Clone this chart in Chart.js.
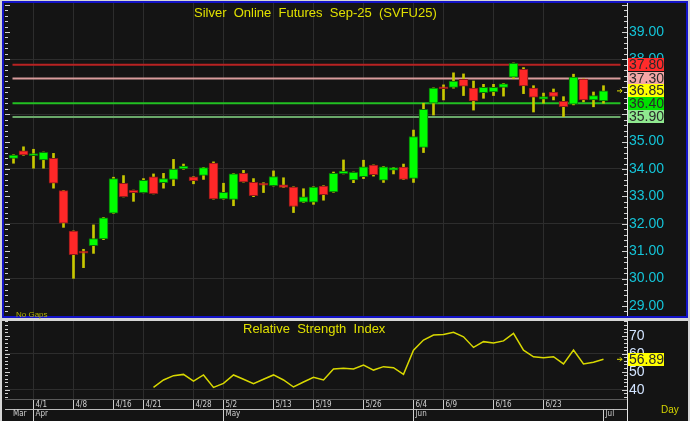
<!DOCTYPE html>
<html>
<head>
<meta charset="utf-8">
<script src="https://cdn.jsdelivr.net/npm/chart.js@4/dist/chart.umd.min.js"></script>
<style>
  html, body { margin: 0; padding: 0; }
  body {
    width: 690px; height: 421px; position: relative; overflow: hidden;
    background: #d6d6d6; font-family: Arial, "Liberation Sans", sans-serif;
  }
  #main {
    position: absolute; left: 2px; top: 1px; width: 682px; height: 313px;
    border: 2px solid #1414c8; background: #141414;
  }
  #rsi { position: absolute; left: 2px; top: 321px; width: 686px; height: 100px; background: #141414; }
  canvas { position: absolute; }
  .txt { position: absolute; white-space: pre; line-height: 1.15; }
</style>
</head>
<body>
<div id="main">
  <canvas id="priceChart" width="681" height="313" style="left:1px;top:0"></canvas>
  <div class="txt" style="left:190px;top:3px;font-size:13px;color:#e0e000">Silver  Online  Futures  Sep-25  (SVFU25)</div>
  <div class="txt" style="left:12px;top:307px;font-size:8px;color:#b4b400">No Gaps</div>
</div>
<div id="rsi">
  <canvas id="rsiChart" width="681" height="100" style="left:3px;top:0"></canvas>
  <div class="txt" style="left:241px;top:1px;font-size:13px;color:#e0e000">Relative  Strength  Index</div>
  <div class="txt" style="left:659px;top:83px;font-size:10px;color:#d4d400">Day</div>
</div>

<script>
// daily OHLC, 3/28 .. 7/1
const opens  = [34.39, 34.66, 34.49, 34.33, 34.39, 33.21, 31.73, 31.00, 31.20, 31.45,
                32.39, 33.48, 33.22, 33.14, 33.71, 33.50, 33.62, 34.00, 33.71, 33.77,
                34.22, 32.91, 32.89, 33.84, 33.51, 33.49, 33.39, 33.42, 33.34, 32.79,
                32.79, 33.38, 33.16, 33.83, 33.60, 33.72, 34.14, 33.59, 33.96, 34.07,
                33.66, 34.79, 36.40, 37.00, 36.98, 37.27, 36.95, 36.79, 36.81, 36.98,
                37.35, 37.64, 36.95, 36.55, 36.81, 36.47, 36.37, 37.28, 36.52, 36.48];
const highs  = [34.52, 34.81, 34.72, 34.62, 34.57, 33.22, 31.74, 31.07, 31.96, 32.23,
                33.70, 33.76, 33.23, 33.65, 33.82, 33.84, 34.35, 34.18, 33.72, 34.06,
                34.26, 33.48, 33.83, 33.95, 33.65, 33.50, 33.93, 33.68, 33.35, 33.28,
                33.35, 33.39, 33.89, 34.33, 33.89, 34.32, 34.15, 34.09, 34.06, 34.18,
                35.42, 36.40, 36.96, 37.07, 37.51, 37.47, 37.21, 37.09, 37.09, 37.12,
                37.87, 37.70, 37.04, 36.77, 36.92, 36.64, 37.46, 37.29, 36.81, 37.04];
const lows   = [34.21, 34.50, 34.03, 34.03, 33.30, 31.87, 30.01, 30.40, 30.92, 31.42,
                32.38, 32.98, 32.82, 33.13, 33.09, 33.30, 33.39, 33.99, 33.46, 33.62,
                32.90, 32.90, 32.66, 33.52, 32.99, 33.14, 33.38, 33.32, 32.41, 32.78,
                32.71, 32.86, 33.15, 33.82, 33.50, 33.65, 33.74, 33.51, 33.82, 33.61,
                33.51, 34.60, 35.97, 36.52, 36.95, 36.68, 36.15, 36.58, 36.68, 36.66,
                37.30, 36.75, 36.08, 36.40, 36.52, 35.91, 36.34, 36.45, 36.27, 36.40];
const closes = [34.51, 34.51, 34.56, 34.61, 33.48, 32.02, 30.87, 30.93, 31.46, 32.22,
                33.65, 32.99, 33.14, 33.59, 33.10, 33.65, 34.00, 34.11, 33.57, 34.05,
                32.91, 33.15, 33.82, 33.53, 33.03, 33.41, 33.72, 33.33, 32.63, 32.98,
                33.34, 33.06, 33.84, 33.92, 33.88, 34.08, 33.79, 34.08, 34.05, 33.62,
                35.18, 36.18, 36.95, 36.93, 37.21, 37.02, 36.48, 36.98, 36.98, 37.11,
                37.86, 37.03, 36.62, 36.64, 36.65, 36.27, 37.35, 36.52, 36.68, 36.85];

// RSI starts at bar 14
const rsiStart = 14;
const rsiValues = [41.3, 45.4, 47.8, 48.5, 44.8, 48.2, 41.3, 43.5, 48.2, 45.8,
                   43.3, 45.8, 48.2, 45.4, 41.5, 44.3, 46.9, 45.4, 51.5, 51.9,
                   51.5, 53.7, 50.9, 52.8, 52.2, 48.5, 62.0, 67.6, 70.4, 70.7,
                   71.9, 69.4, 63.5, 66.7, 65.9, 67.1, 71.3, 62.0, 58.3, 57.8,
                   58.3, 54.3, 62.0, 54.3, 55.2, 56.89];

const dateIdx    = [2, 6, 10, 13, 18, 21, 26, 30, 35, 40, 43, 48, 53];
const dateLabels = ['4/1', '4/8', '4/16', '4/21', '4/28', '5/2', '5/13', '5/19', '5/26', '6/4', '6/9', '6/16', '6/23'];
const monthIdx    = [-0.25, 2, 21, 40, 59];
const monthLabels = ['Mar', 'Apr', 'May', 'Jun', 'Jul'];

const priceTicks = [29, 30, 31, 32, 33, 34, 35, 36, 37, 38, 39];
const rsiTicks   = [40, 50, 60, 70];

const levelValues    = [37.80, 37.30, 36.85, 36.40, 35.90];
const levelTagColors = ['#ff2b2b', '#f4a6a6', '#ffff00', '#00e000', '#8fe88f'];
const levelLineColors = ['#b82222', '#d89c9c', null, '#22c022', '#6aa86a'];
const lastPrice = 36.85;
const lastRsi = 56.89;

const xMin = -0.85, xMax = 61.35;
const gridColor = '#2d2d2d';
const narrow = '"Liberation Sans Narrow", "DejaVu Sans Condensed", Arial, sans-serif';

Chart.defaults.font.family = 'Arial, "Liberation Sans", sans-serif';

function edgeTicks(chart, step, major) {
  const { ctx, chartArea: a, scales: { y } } = chart;
  ctx.save();
  ctx.strokeStyle = '#d0d0d0';
  ctx.lineWidth = 1;
  ctx.beginPath();
  for (let k = Math.ceil(y.min / step); k * step <= y.max; k++) {
    const v = k * step;
    const py = Math.round(y.getPixelForValue(v)) + 0.5;
    const len = Math.abs(v / major - Math.round(v / major)) < 1e-6 ? 5 : 3;
    ctx.moveTo(a.left, py); ctx.lineTo(a.left + len, py);
    ctx.moveTo(a.right, py); ctx.lineTo(a.right - len, py);
  }
  ctx.stroke();
  ctx.restore();
}

function tag(chart, value, text, bg) {
  const { ctx, chartArea: a, scales: { y } } = chart;
  const py = y.getPixelForValue(value);
  ctx.save();
  ctx.fillStyle = bg;
  ctx.fillRect(a.right + 1, Math.round(py - 6.5), 36, 13);
  ctx.fillStyle = '#2a2a2a';
  ctx.font = '14px Arial, "Liberation Sans", sans-serif';
  ctx.textBaseline = 'middle';
  ctx.fillText(text, a.right + 2, py + 0.5);
  // little arrow pointing at the tag
  const x0 = a.right - 10;
  ctx.strokeStyle = '#e0e000';
  ctx.lineWidth = 1;
  ctx.beginPath();
  ctx.moveTo(x0, py); ctx.lineTo(x0 + 5, py);
  ctx.moveTo(x0 + 3, py - 2); ctx.lineTo(x0 + 5, py); ctx.lineTo(x0 + 3, py + 2);
  ctx.stroke();
  ctx.restore();
}

const priceTags = {
  id: 'priceTags',
  afterDraw(chart) {
    edgeTicks(chart, 0.2, 1);
    levelValues.forEach((v, i) => {
      if (v === lastPrice) return;
      const { ctx, chartArea: a, scales: { y } } = chart;
      const py = y.getPixelForValue(v);
      ctx.save();
      ctx.fillStyle = levelTagColors[i];
      ctx.fillRect(a.right + 1, Math.round(py - 6.5), 36, 13);
      ctx.fillStyle = '#2a2a2a';
      ctx.font = '14px Arial, "Liberation Sans", sans-serif';
      ctx.textBaseline = 'middle';
      ctx.fillText(v.toFixed(2), a.right + 2, py + 0.5);
      ctx.restore();
    });
    tag(chart, lastPrice, lastPrice.toFixed(2), levelTagColors[levelValues.indexOf(lastPrice)]);
  }
};

const rsiTags = {
  id: 'rsiTags',
  afterDraw(chart) {
    edgeTicks(chart, 2, 10);
    const { ctx, chartArea: a } = chart;
    ctx.save();
    ctx.strokeStyle = '#e6e6e6';
    ctx.beginPath();
    ctx.moveTo(a.right + 0.5, 0); ctx.lineTo(a.right + 0.5, chart.height);
    ctx.stroke();
    ctx.restore();
    tag(chart, lastRsi, lastRsi.toFixed(2), '#ffff00');
  }
};

const bodies = {
  type: 'bar',
  order: 0,
  grouped: false,
  data: opens.map((o, i) => ({ x: i, y: [o, closes[i]] })),
  backgroundColor: opens.map((o, i) => closes[i] >= o ? '#00ff00' : '#ff2828'),
  borderColor: opens.map((o, i) => closes[i] >= o ? '#0b6e0b' : '#8c1a1a'),
  borderWidth: 1,
  borderSkipped: false,
  barThickness: 9,
  minBarLength: 2
};

const wicks = {
  type: 'bar',
  order: 1,
  grouped: false,
  data: lows.map((l, i) => ({ x: i, y: [l, highs[i]] })),
  backgroundColor: '#c8c800',
  barThickness: 2
};

const levelLines = [];
levelValues.forEach((v, i) => {
  if (!levelLineColors[i]) return;
  levelLines.push({
    type: 'line',
    order: 2,
    data: [{ x: -0.1, y: v }, { x: 60.7, y: v }],
    borderColor: levelLineColors[i],
    borderWidth: 2,
    pointRadius: 0
  });
});

new Chart(document.getElementById('priceChart'), {
  type: 'bar',
  data: { datasets: [bodies, wicks, ...levelLines] },
  options: {
    responsive: false,
    animation: false,
    events: [],
    layout: { padding: 0 },
    plugins: { legend: { display: false }, tooltip: { enabled: false } },
    scales: {
      x: {
        type: 'linear', min: xMin, max: xMax, offset: false,
        afterBuildTicks: s => { s.ticks = dateIdx.map(v => ({ value: v })); },
        afterFit: s => { s.height = 0; },
        ticks: { display: false },
        grid: { color: gridColor, drawTicks: false, offset: false },
        border: { display: false }
      },
      y: {
        position: 'right', min: 28.635, max: 40.058,
        afterBuildTicks: s => { s.ticks = priceTicks.map(v => ({ value: v })); },
        afterFit: s => { s.width = 59; s.paddingTop = 0; s.paddingBottom = 0; },
        ticks: { color: '#14c4d8', font: { size: 14 }, padding: 2, autoSkip: false, callback: v => v.toFixed(2) },
        grid: { drawTicks: false, color: c => (c.tick && c.tick.value % 2 === 0) ? gridColor : 'transparent' },
        border: { color: '#e6e6e6' }
      }
    }
  },
  plugins: [priceTags]
});

new Chart(document.getElementById('rsiChart'), {
  type: 'line',
  data: {
    datasets: [{
      data: rsiValues.map((r, i) => ({ x: rsiStart + i, y: r })),
      borderColor: '#d8d800',
      borderWidth: 1.5,
      pointRadius: 0,
      tension: 0
    }]
  },
  options: {
    responsive: false,
    animation: false,
    events: [],
    layout: { padding: 0 },
    plugins: { legend: { display: false }, tooltip: { enabled: false } },
    scales: {
      x: {
        type: 'linear', axis: 'x', position: 'bottom', weight: 1, min: xMin, max: xMax,
        afterBuildTicks: s => { s.ticks = dateIdx.map(v => ({ value: v })); },
        afterFit: s => { s.height = 10; },
        ticks: {
          color: '#cfcfcf', font: { size: 8, family: narrow }, align: 'start', labelOffset: 2,
          padding: -9, maxRotation: 0, autoSkip: false, callback: (v, i) => dateLabels[i]
        },
        grid: { color: gridColor, tickColor: '#cfcfcf', tickLength: 10 },
        border: { color: '#5a5a5a' }
      },
      xm: {
        type: 'linear', axis: 'x', position: 'bottom', weight: 2, min: xMin, max: xMax,
        afterBuildTicks: s => { s.ticks = monthIdx.map(v => ({ value: v })); },
        afterFit: s => { s.height = 12; },
        ticks: {
          color: '#cfcfcf', font: { size: 8, family: narrow }, align: 'start', labelOffset: 2,
          padding: -12, maxRotation: 0, autoSkip: false, callback: (v, i) => monthLabels[i]
        },
        grid: {
          drawOnChartArea: false, tickLength: 12,
          tickColor: c => (c.tick && c.tick.value < 0) ? 'transparent' : '#cfcfcf'
        },
        border: { color: '#bdbdbd' }
      },
      y: {
        position: 'right', min: 34.83, max: 78.17,
        afterBuildTicks: s => { s.ticks = rsiTicks.map(v => ({ value: v })); },
        afterFit: s => { s.width = 59; s.paddingTop = 0; s.paddingBottom = 0; },
        ticks: { color: '#d2e4ff', font: { size: 14 }, padding: 2, autoSkip: false, callback: v => String(v) },
        grid: { drawTicks: false, color: c => (c.tick && (c.tick.value === 40 || c.tick.value === 60)) ? gridColor : 'transparent' },
        border: { color: '#e6e6e6' }
      }
    }
  },
  plugins: [rsiTags]
});
</script>
</body>
</html>
